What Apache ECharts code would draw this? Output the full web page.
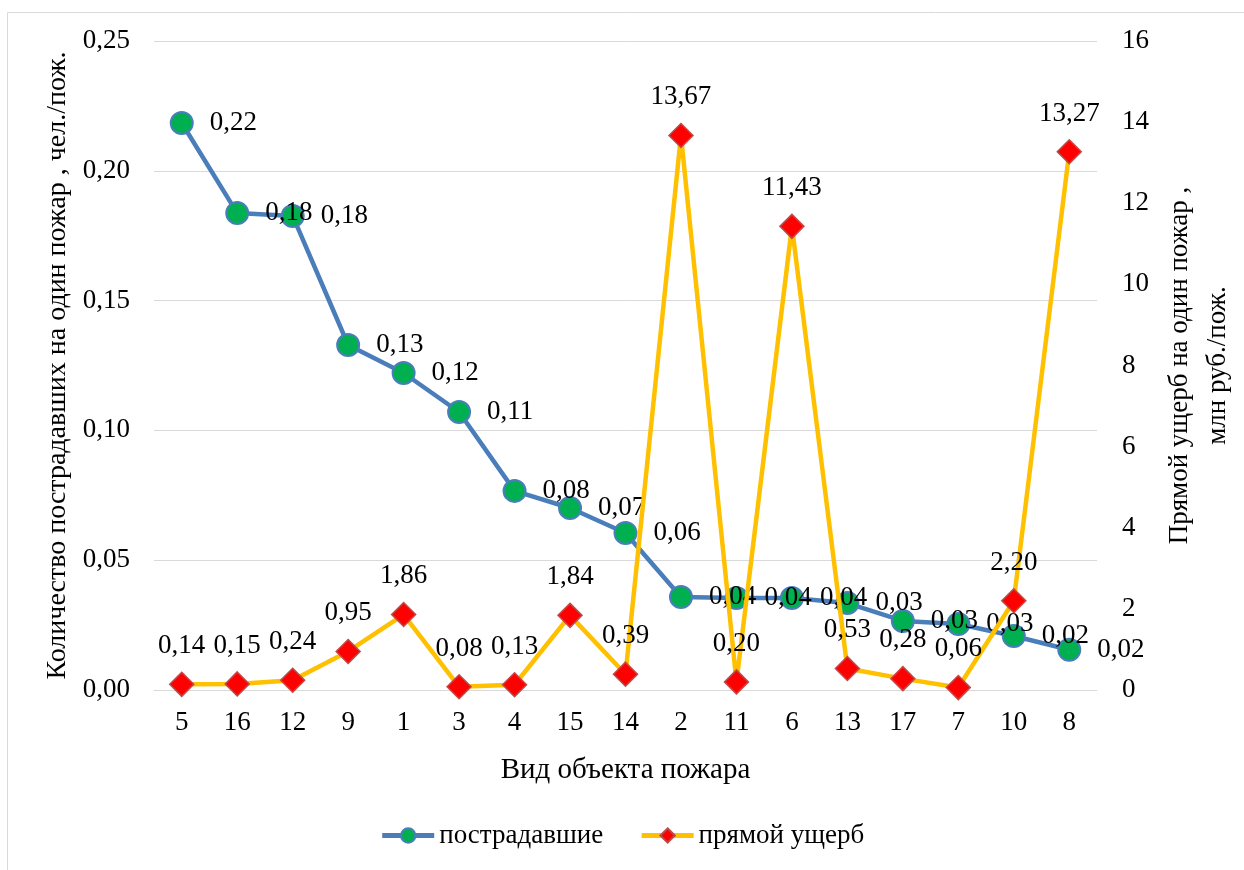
<!DOCTYPE html>
<html><head><meta charset="utf-8">
<script src="https://cdn.jsdelivr.net/npm/echarts@6/dist/echarts.min.js"></script>
<style>html,body{margin:0;padding:0;background:#fff}#c{width:1244px;height:870px}</style>
</head><body><div id="c"></div>
<script>
var categories = ['5','16','12','9','1','3','4','15','14','2','11','6','13','17','7','10','8'];
var victims = [0.2184,0.1837,0.1826,0.1329,0.1221,0.1071,0.0767,0.0701,0.0605,0.0358,0.0354,0.0354,0.0335,0.0266,0.0254,0.0208,0.0155];
var damage = [0.14,0.15,0.24,0.95,1.86,0.08,0.13,1.84,0.39,13.67,0.20,11.43,0.53,0.28,0.06,2.20,13.27];
var leftTicks = {min:0, max:0.25, interval:0.05};
var rightTicks = {min:0, max:16, interval:2};
var seriesNames = ['пострадавшие','прямой ущерб'];

var FONT = 'Liberation Serif';
var FS = 27;
var fmt2 = function(v){ return Number(v).toFixed(2).replace('.', ','); };
var chart = echarts.init(document.getElementById('c'), null, {renderer:'canvas'});
chart.setOption({
  backgroundColor:'#fff',
  animation:false,
  textStyle:{fontFamily:FONT},
  graphic:[{type:'rect', shape:{x:7.5,y:12.5,width:1300,height:900}, style:{fill:'none', stroke:'#D9D9D9', lineWidth:1}, silent:true}],
  grid:{left:154, right:147, top:41, bottom:180, containLabel:false, outerBoundsMode:'none'},
  legend:{
    bottom:16, left:'center', itemWidth:52, itemHeight:18, itemGap:36,
    lineStyle:{width:5},
    textStyle:{fontFamily:FONT, fontSize:FS, color:'#000'},
    data:seriesNames
  },
  xAxis:{
    type:'category', data:categories, boundaryGap:true,
    axisLine:{show:true, lineStyle:{color:'#D9D9D9', width:1}},
    axisTick:{show:false},
    axisLabel:{fontFamily:FONT, fontSize:FS, color:'#000', margin:19, interval:0},
    name:'Вид объекта пожара', nameLocation:'middle', nameGap:66,
    nameTextStyle:{fontFamily:FONT, fontSize:29, color:'#000'}
  },
  yAxis:[{
    type:'value', min:leftTicks.min, max:leftTicks.max, interval:leftTicks.interval,
    axisLine:{show:false}, axisTick:{show:false},
    splitLine:{lineStyle:{color:'#D9D9D9', width:1}},
    axisLabel:{fontFamily:FONT, fontSize:FS, color:'#000', margin:24, formatter:fmt2},
    name:'Количество пострадавших на один пожар , чел./пож.', nameLocation:'middle', nameGap:75, nameRotate:90,
    nameTextStyle:{fontFamily:FONT, fontSize:28, color:'#000'}
  },{
    type:'value', min:rightTicks.min, max:rightTicks.max, interval:rightTicks.interval, position:'right',
    axisLine:{show:false}, axisTick:{show:false}, splitLine:{show:false},
    axisLabel:{fontFamily:FONT, fontSize:FS, color:'#000', margin:25},
    name:'Прямой ущерб на один пожар ,\nмлн руб./пож.', nameLocation:'middle', nameGap:64, nameRotate:90,
    nameTextStyle:{fontFamily:FONT, fontSize:FS, color:'#000', lineHeight:38}
  }],
  series:[{
    name:seriesNames[0], type:'line', yAxisIndex:0, data:victims,
    symbol:'circle', symbolSize:22,
    lineStyle:{color:'#4A7EBB', width:4.5},
    itemStyle:{color:'#00B050', borderColor:'#4A7EBB', borderWidth:2},
    label:{show:true, position:'right', distance:16, formatter:function(p){return fmt2(p.value);}, fontFamily:FONT, fontSize:FS, color:'#000'},
    z:3
  },{
    name:seriesNames[1], type:'line', yAxisIndex:1, data:damage,
    symbol:'diamond', symbolSize:[24,24],
    lineStyle:{color:'#FFC000', width:4.5},
    itemStyle:{color:'#FF0000', borderColor:'#BE4B48', borderWidth:1.5},
    label:{show:true, position:'top', distance:12, formatter:function(p){return fmt2(p.value);}, fontFamily:FONT, fontSize:FS, color:'#000'},
    z:4
  }]
});
</script></body></html>
